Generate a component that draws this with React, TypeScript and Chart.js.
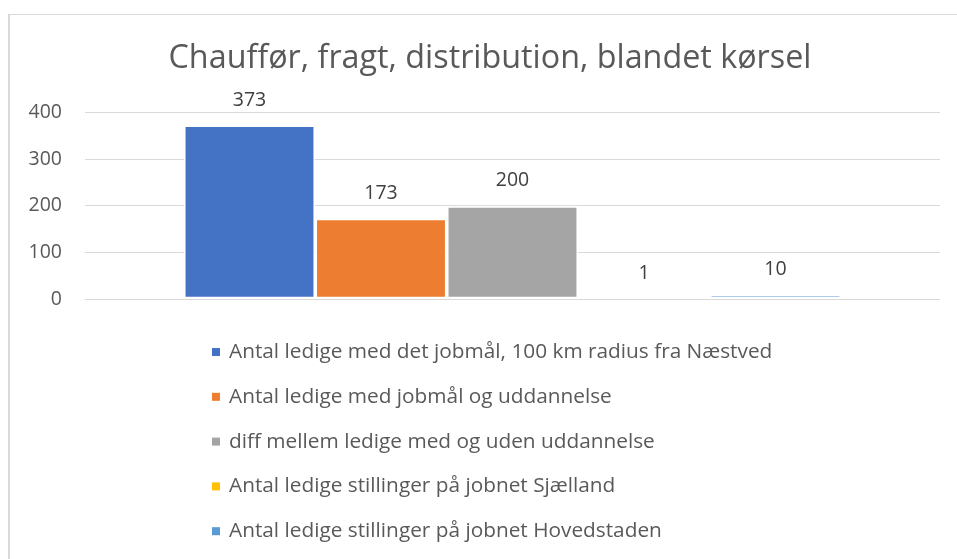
import React, { useEffect, useRef } from "react";
import { Chart, registerables } from "chart.js";

Chart.register(...registerables);

const TITLE = "Chauffør, fragt, distribution, blandet kørsel";
const CATEGORIES = [""];
const SERIES_LABELS = [
  "Antal ledige med det jobmål, 100 km radius fra Næstved",
  "Antal ledige med jobmål og uddannelse",
  "diff mellem ledige med og uden uddannelse",
  "Antal ledige stillinger på jobnet Sjælland",
  "Antal ledige stillinger på jobnet Hovedstaden",
];
const SERIES_VALUES = [373, 173, 200, 1, 10];
const SERIES_COLORS = ["#4472C4", "#ED7D31", "#A5A5A5", "#FFC000", "#5B9BD5"];
const Y_MIN = 0;
const Y_MAX = 400;
const Y_STEP = 100;

const FONT = "'Open Sans', Lato, sans-serif";

const framePlugin = {
  id: "frame",
  beforeDraw(chart: any) {
    const ctx = chart.ctx;
    ctx.save();
    ctx.fillStyle = "#ffffff";
    ctx.fillRect(0, 0, chart.width, chart.height);
    ctx.fillStyle = "#d9d9d9";
    ctx.fillRect(8, 14, 2, chart.height - 14);
    ctx.fillRect(8, 14, chart.width - 8, 1);
    ctx.restore();
  },
  afterDraw(chart: any) {
    const ctx = chart.ctx;
    ctx.save();
    ctx.font = `32.3px ${FONT}`;
    ctx.fillStyle = "#595959";
    ctx.textAlign = "center";
    ctx.textBaseline = "middle";
    ctx.fillText(TITLE, 490, 59);
    ctx.restore();
  },
};

const dataLabelPlugin = {
  id: "dataLabels",
  afterDatasetsDraw(chart: any) {
    const ctx = chart.ctx;
    ctx.save();
    ctx.font = `19.5px ${FONT}`;
    ctx.fillStyle = "#404040";
    ctx.textAlign = "center";
    ctx.textBaseline = "middle";
    chart.data.datasets.forEach((ds: any, i: number) => {
      const meta = chart.getDatasetMeta(i);
      meta.data.forEach((el: any, j: number) => {
        ctx.fillText(String(ds.data[j]), el.x, el.y - 25);
      });
    });
    ctx.restore();
  },
};

const legendPlugin = {
  id: "vertLegend",
  afterDraw(chart: any) {
    const ctx = chart.ctx;
    ctx.save();
    ctx.font = `20.8px ${FONT}`;
    ctx.textAlign = "left";
    ctx.textBaseline = "middle";
    chart.data.datasets.forEach((ds: any, i: number) => {
      const y = 352 + 44.8 * i;
      ctx.fillStyle = ds.backgroundColor;
      ctx.fillRect(212, y - 4, 8, 8);
      ctx.fillStyle = "#595959";
      ctx.fillText(ds.label, 229, y);
    });
    ctx.restore();
  },
};

export default function App() {
  const ref = useRef<HTMLCanvasElement>(null);
  useEffect(() => {
    if (!ref.current) return;
    const chart = new Chart(ref.current, {
      type: "bar",
      data: {
        labels: CATEGORIES,
        datasets: SERIES_LABELS.map((label, i) => ({
          label,
          data: [SERIES_VALUES[i]],
          backgroundColor: SERIES_COLORS[i],
          borderColor: "#ffffff",
          borderWidth: 1.8,
          borderSkipped: false,
          categoryPercentage: 0.769,
          barPercentage: 1,
        })),
      },
      options: {
        responsive: false,
        animation: false,
        layout: { padding: { left: 0, right: 17, top: 112.7, bottom: 260 } },
        plugins: {
          legend: { display: false },
          tooltip: { enabled: false },
          title: { display: false },
        },
        scales: {
          x: { display: false },
          y: {
            min: Y_MIN,
            max: Y_MAX,
            ticks: {
              stepSize: Y_STEP,
              color: "#595959",
              padding: 23,
              font: { family: FONT, size: 19.5 },
            },
            grid: { color: "#d9d9d9", drawTicks: false },
            border: { display: false },
            afterFit(scale: any) {
              scale.width = 85;
            },
          },
        },
      },
      plugins: [framePlugin, dataLabelPlugin, legendPlugin],
    });
    return () => chart.destroy();
  }, []);
  return (
    <div style={{ position: "fixed", left: 0, top: 0, width: 957, height: 559 }}>
      <canvas ref={ref} width={957} height={559} />
    </div>
  );
}
